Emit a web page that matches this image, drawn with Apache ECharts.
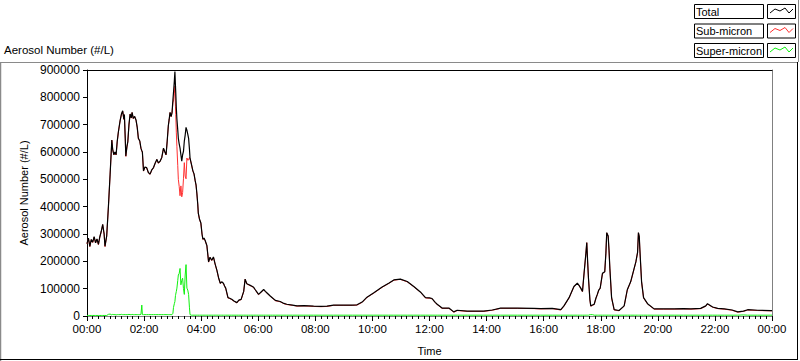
<!DOCTYPE html>
<html><head><meta charset="utf-8">
<script src="https://cdn.jsdelivr.net/npm/echarts@6/dist/echarts.min.js"></script>
<style>html,body{margin:0;padding:0;background:#fff}#c{width:800px;height:361px}</style>
</head><body><div id="c"></div>
<script>
// time of day in hours
const times = [
0,0.05,0.1,0.15,0.2,0.25,0.3,0.35,0.4,0.45,
0.5,0.55,0.6,0.63,0.69,0.75,0.81,0.87,0.9,0.94,
0.98,1.02,1.06,1.1,1.16,1.21,1.25,1.29,1.31,1.34,
1.36,1.4,1.43,1.47,1.51,1.55,1.58,1.62,1.67,1.72,
1.76,1.8,1.85,1.89,1.92,1.94,1.98,2.03,2.09,2.15,
2.21,2.27,2.33,2.39,2.45,2.5,2.56,2.62,2.68,2.73,
2.77,2.81,2.85,2.88,2.91,2.95,2.98,3.01,3.03,3.06,
3.08,3.1,3.11,3.13,3.15,3.18,3.2,3.23,3.26,3.29,
3.32,3.35,3.38,3.41,3.44,3.47,3.5,3.53,3.56,3.59,
3.61,3.66,3.71,3.75,3.79,3.82,3.85,3.88,3.9,3.94,
3.99,4.03,4.06,4.1,4.14,4.2,4.26,4.31,4.37,4.43,
4.49,4.55,4.61,4.67,4.72,4.78,4.82,4.86,4.94,5,
5.07,5.15,5.25,5.32,5.4,5.49,5.54,5.6,5.66,5.72,
5.78,5.84,5.89,5.95,6.01,6.1,6.19,6.25,6.3,6.42,
6.5,6.6,6.77,6.9,7,7.2,7.36,7.6,7.94,8.2,
8.41,8.64,9,9.3,9.46,9.64,9.81,10.05,10.34,10.57,
10.75,10.98,11.22,11.45,11.68,11.86,12,12.09,12.2,12.27,
12.44,12.68,12.85,12.97,13.32,13.9,14.2,14.49,15.08,15.66,
15.89,16.3,16.6,16.71,16.89,17.06,17.18,17.24,17.3,17.36,
17.42,17.48,17.51,17.54,17.57,17.62,17.65,17.71,17.77,17.83,
17.88,17.93,17.98,18.06,18.14,18.18,18.21,18.26,18.29,18.32,
18.38,18.47,18.64,18.82,18.93,19.05,19.17,19.23,19.29,19.32,
19.35,19.37,19.43,19.5,19.64,19.87,20.2,20.57,20.9,21.16,
21.5,21.68,21.74,21.92,22.1,22.33,22.6,22.8,23,23.15,
23.5,23.96,24];

const total = [
265e3,285e3,255e3,280e3,270e3,290e3,268e3,282e3,262e3,290e3,
310e3,335e3,300e3,255e3,293e3,400e3,519e3,644e3,610e3,590e3,
600e3,590e3,640e3,674e3,715e3,740e3,751e3,720e3,737e3,650e3,
585e3,620e3,638e3,700e3,739e3,725e3,745e3,723e3,730e3,716e3,
690e3,650e3,640e3,614e3,605e3,600e3,531e3,545e3,543e3,525e3,
519e3,535e3,543e3,560e3,573e3,560e3,566e3,580e3,614e3,600e3,
590e3,640e3,697e3,720e3,745e3,730e3,745e3,790e3,817e3,860e3,
894e3,840e3,817e3,760e3,721e3,680e3,650e3,630e3,614e3,590e3,
566e3,590e3,602e3,640e3,662e3,690e3,680e3,665e3,650e3,610e3,
578e3,555e3,531e3,520e3,495e3,480e3,448e3,410e3,376e3,355e3,
340e3,300e3,281e3,285e3,276e3,258e3,198e3,215e3,204e3,216e3,
190e3,168e3,140e3,120e3,125e3,120e3,110e3,102e3,67e3,65e3,
61e3,55e3,49e3,58e3,61e3,90e3,135e3,118e3,115e3,112e3,
109e3,105e3,97e3,88e3,79e3,88e3,97e3,90e3,85e3,73e3,
66e3,57e3,53e3,46e3,43e3,40e3,37e3,38e3,36e3,35e3,
36e3,40e3,40e3,40e3,41e3,51e3,69e3,85e3,106e3,120e3,
132e3,135e3,126e3,108e3,88e3,67e3,66e3,64e3,50e3,43e3,
29e3,29e3,15e3,21e3,18e3,18e3,22e3,29e3,29e3,28e3,
27e3,28e3,23e3,37e3,67e3,108e3,120e3,112e3,102e3,90e3,
162e3,230e3,269e3,200e3,138e3,60e3,37e3,40e3,43e3,65e3,
79e3,95e3,102e3,156e3,162e3,230e3,305e3,293e3,240e3,174e3,
67e3,23e3,20e3,37e3,96e3,126e3,174e3,198e3,233e3,305e3,
290e3,245e3,126e3,67e3,45e3,26e3,26e3,26e3,27e3,26e3,
28e3,37e3,45e3,33e3,28e3,26e3,22e3,15e3,18e3,23e3,
21e3,20e3,20e3];

const subMicron = [
264e3,284e3,254e3,279e3,269e3,289e3,267e3,281e3,261e3,289e3,
309e3,334e3,299e3,254e3,292e3,399e3,518e3,643e3,609e3,589e3,
599e3,589e3,639e3,673e3,714e3,739e3,750e3,719e3,736e3,649e3,
584e3,619e3,637e3,699e3,738e3,724e3,744e3,722e3,729e3,715e3,
689e3,649e3,639e3,613e3,604e3,599e3,530e3,544e3,542e3,524e3,
518e3,534e3,542e3,559e3,572e3,559e3,565e3,579e3,613e3,599e3,
589e3,639e3,696e3,719e3,744e3,729e3,744e3,780e3,786e3,815e3,
841e3,765e3,737e3,670e3,619e3,550e3,500e3,474e3,440e3,476e3,
436e3,452e3,502e3,561e3,512e3,502e3,578e3,570e3,571e3,580e3,
577e3,554e3,530e3,519e3,494e3,479e3,447e3,409e3,375e3,354e3,
339e3,299e3,280e3,284e3,275e3,257e3,197e3,214e3,203e3,215e3,
189e3,167e3,139e3,119e3,124e3,119e3,109e3,101e3,66e3,64e3,
60e3,54e3,48e3,57e3,60e3,89e3,134e3,117e3,114e3,111e3,
108e3,104e3,96e3,87e3,78e3,87e3,96e3,89e3,84e3,72e3,
65e3,56e3,52e3,45e3,42e3,39e3,36e3,37e3,35e3,34e3,
35e3,39e3,39e3,39e3,40e3,50e3,68e3,84e3,105e3,119e3,
131e3,134e3,125e3,107e3,87e3,66e3,65e3,63e3,49e3,42e3,
28e3,28e3,14e3,20e3,17e3,17e3,21e3,28e3,28e3,27e3,
26e3,27e3,22e3,36e3,66e3,107e3,119e3,111e3,101e3,89e3,
161e3,229e3,268e3,199e3,137e3,59e3,36e3,39e3,42e3,64e3,
78e3,94e3,101e3,155e3,161e3,229e3,304e3,292e3,239e3,173e3,
66e3,22e3,19e3,36e3,95e3,125e3,173e3,197e3,232e3,304e3,
289e3,244e3,125e3,66e3,44e3,25e3,25e3,25e3,26e3,25e3,
27e3,36e3,44e3,32e3,27e3,25e3,21e3,14e3,17e3,22e3,
20e3,19e3,19e3];

const superMicron = [
2e3,2e3,2e3,2e3,2e3,2e3,2e3,2e3,2e3,2e3,
2e3,2e3,2e3,2e3,2e3,6e3,7e3,4e3,6e3,5e3,
5e3,4e3,5e3,5e3,5e3,6e3,5e3,5e3,6e3,5e3,
5e3,5e3,5e3,6e3,5e3,5e3,6e3,5e3,5e3,5e3,
5e3,5e3,5e3,6e3,40e3,5e3,5e3,5e3,5e3,5e3,
5e3,5e3,5e3,5e3,5e3,5e3,5e3,5e3,5e3,5e3,
5e3,5e3,5e3,5e3,5e3,5e3,5e3,10e3,31e3,45e3,
53e3,75e3,80e3,90e3,102e3,130e3,150e3,156e3,174e3,114e3,
130e3,138e3,100e3,79e3,150e3,188e3,102e3,95e3,79e3,30e3,
5e3,3e3,3e3,3e3,3e3,3e3,3e3,3e3,3e3,3e3,
3e3,3e3,3e3,3e3,3e3,3e3,3e3,3e3,3e3,3e3,
3e3,3e3,3e3,3e3,3e3,3e3,3e3,3e3,3e3,3e3,
3e3,3e3,3e3,3e3,3e3,3e3,3e3,3e3,3e3,3e3,
3e3,3e3,3e3,3e3,3e3,3e3,3e3,3e3,3e3,3e3,
3e3,3e3,3e3,3e3,3e3,3e3,3e3,3e3,3e3,3e3,
3e3,3e3,3e3,3e3,3e3,3e3,3e3,3e3,3e3,3e3,
3e3,3e3,3e3,3e3,3e3,3e3,3e3,3e3,3e3,3e3,
3e3,3e3,3e3,3e3,3e3,3e3,3e3,3e3,3e3,3e3,
3e3,3e3,3e3,3e3,3e3,3e3,3e3,3e3,3e3,3e3,
3e3,3e3,3e3,3e3,3e3,5e3,5e3,5e3,3e3,3e3,
3e3,3e3,3e3,3e3,3e3,3e3,3e3,3e3,3e3,3e3,
3e3,3e3,3e3,3e3,3e3,3e3,3e3,3e3,3e3,3e3,
3e3,3e3,3e3,3e3,3e3,3e3,3e3,3e3,3e3,3e3,
3e3,3e3,3e3,3e3,3e3,3e3,3e3,3e3,4e3,3e3,
3e3,3e3,3e3];

const seriesNames = ['Total', 'Sub-micron', 'Super-micron'];
const seriesColors = ['#000000', '#ff3030', '#10f010'];
const yTitle = 'Aerosol Number (#/L)';
const xTitle = 'Time';

const pair = arr => times.map((t, i) => [t, arr[i]]);
const FONT = 'Liberation Sans';

const chart = echarts.init(document.getElementById('c'), null, {renderer: 'svg'});

// legend drawn as boxed rows (text box + line sample box)
const legendGraphics = [];
const sampleShape = [[770,13],[775,9],[780,11],[785,8],[789,13],[793,9]];
seriesNames.forEach((name, i) => {
  const top = 4.5 + i * 19.5;
  legendGraphics.push({type:'rect', shape:{x:694.5, y:top, width:69, height:14}, style:{fill:'#fff', stroke:'#000', lineWidth:1}, silent:true});
  legendGraphics.push({type:'text', x:696, y:top + 1.5, style:{text:name, fill:'#000', font:'11px "' + FONT + '"'}, silent:true});
  legendGraphics.push({type:'rect', shape:{x:767.5, y:top, width:28, height:14}, style:{fill:'#fff', stroke:'#000', lineWidth:1}, silent:true});
  legendGraphics.push({type:'polyline', shape:{points: sampleShape.map(p => [p[0], p[1] + top - 4.5])}, style:{stroke:seriesColors[i], fill:null, lineWidth:1}, silent:true});
});

const frame = [
  {type:'line', shape:{x1:0, y1:62.5, x2:798, y2:62.5}, style:{stroke:'#8a8a8a', lineWidth:1}, silent:true},
  {type:'line', shape:{x1:0.5, y1:62, x2:0.5, y2:361}, style:{stroke:'#8a8a8a', lineWidth:1.5}, silent:true},
  {type:'line', shape:{x1:798.5, y1:0, x2:798.5, y2:62}, style:{stroke:'#8a8a8a', lineWidth:1}, silent:true},
  {type:'line', shape:{x1:797.5, y1:62, x2:797.5, y2:360}, style:{stroke:'#000', lineWidth:1}, silent:true},
  {type:'line', shape:{x1:0, y1:359.5, x2:798, y2:359.5}, style:{stroke:'#000', lineWidth:1}, silent:true}
];

const pad = n => (n < 10 ? '0' : '') + n;

chart.setOption({
  animation: false,
  backgroundColor: '#fff',
  textStyle: {fontFamily: FONT},
  title: {text: yTitle, left: 4, top: 44, padding: 0, textStyle: {fontSize: 11.5, fontWeight: 'normal', color: '#000', fontFamily: FONT}},
  grid: {left: 87, right: 28, top: 70, bottom: 39, containLabel: false},
  xAxis: [{
    type: 'value', min: 0, max: 24, interval: 2,
    name: xTitle, nameLocation: 'middle', nameGap: 29,
    nameTextStyle: {fontSize: 11, color: '#000', fontFamily: FONT},
    axisLine: {show: true, lineStyle: {color: '#808080', width: 1}},
    axisTick: {show: true, length: 5, lineStyle: {color: '#000'}},
    minorTick: {show: true, splitNumber: 10, length: 3, lineStyle: {color: '#000'}},
    axisLabel: {margin: 7, fontSize: 11.5, color: '#000', fontFamily: FONT, formatter: v => pad(v % 24) + ':00'},
    splitLine: {show: false}
  }, {
    type: 'value', min: 0, max: 24, position: 'top',
    axisLine: {show: true, onZero: false, lineStyle: {color: '#000', width: 1}},
    axisTick: {show: false}, axisLabel: {show: false}, splitLine: {show: false}
  }],
  yAxis: [{
    type: 'value', min: 0, max: 900000, interval: 100000,
    name: yTitle, nameLocation: 'middle', nameGap: 54, nameRotate: 90,
    nameTextStyle: {fontSize: 11, color: '#000', fontFamily: FONT},
    axisLine: {show: true, lineStyle: {color: '#000', width: 1}},
    axisTick: {show: true, length: 4, lineStyle: {color: '#000'}},
    axisLabel: {margin: 7, fontSize: 12, color: '#000', fontFamily: FONT, formatter: v => String(v)},
    splitLine: {show: false}
  }, {
    type: 'value', min: 0, max: 900000, position: 'right',
    axisLine: {show: true, onZero: false, lineStyle: {color: '#808080', width: 1}},
    axisTick: {show: false}, axisLabel: {show: false}, splitLine: {show: false}
  }],
  series: [
    {name: seriesNames[1], type: 'line', data: pair(subMicron), showSymbol: false, lineStyle: {color: seriesColors[1], width: 1}, itemStyle: {color: seriesColors[1]}, z: 2},
    {name: seriesNames[0], type: 'line', data: pair(total), showSymbol: false, lineStyle: {color: seriesColors[0], width: 1.2}, itemStyle: {color: seriesColors[0]}, z: 3},
    {name: seriesNames[2], type: 'line', data: pair(superMicron), showSymbol: false, lineStyle: {color: seriesColors[2], width: 1}, itemStyle: {color: seriesColors[2]}, z: 4}
  ],
  graphic: frame.concat(legendGraphics)
});
</script>
</body></html>
